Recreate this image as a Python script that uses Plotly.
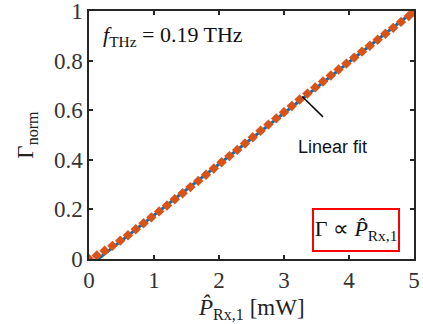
import plotly.graph_objects as go

# measured normalized Gamma vs received power
p_meas = [0, 0.12, 0.24, 0.36, 0.48, 0.6, 0.72, 0.84, 0.96, 1.08, 1.2, 1.32, 1.44, 1.56,
          1.68, 1.8, 1.92, 2.04, 2.16, 2.28, 2.4, 2.52, 2.64, 2.76, 2.88, 3.0, 3.12, 3.24,
          3.36, 3.48, 3.6, 3.72, 3.84, 3.96, 4.08, 4.2, 4.32, 4.44, 4.56, 4.68, 4.8, 4.92, 5.0]
g_meas = [0, 0.014, 0.033, 0.053, 0.074, 0.096, 0.12, 0.144, 0.168, 0.192, 0.216, 0.241,
          0.265, 0.29, 0.315, 0.34, 0.365, 0.39, 0.415, 0.44, 0.466, 0.491, 0.517,
          0.542, 0.567, 0.592, 0.617, 0.643, 0.667, 0.692, 0.716, 0.74, 0.764, 0.788,
          0.812, 0.836, 0.86, 0.884, 0.908, 0.932, 0.956, 0.98, 0.997]

# linear fit endpoints
p_fit = [0, 5]
g_fit = [-0.029, 1.0]

x_ticks = [0, 1, 2, 3, 4, 5]
y_ticks = [0, 0.2, 0.4, 0.6, 0.8, 1]
y_ticklabels = ["0", "0.2", "0.4", "0.6", "0.8", "1"]

BLUE = "#0072BD"
ORANGE = "#D95319"
AX = "#262626"
SERIF = "Liberation Serif"

fig = go.Figure()
fig.add_trace(go.Scatter(x=p_fit, y=g_fit, mode="lines",
                         line=dict(color=BLUE, width=3), showlegend=False))
fig.add_trace(go.Scatter(x=p_meas, y=g_meas, mode="markers",
                         marker=dict(symbol="diamond", size=8, color=ORANGE,
                                     line=dict(width=0)),
                         showlegend=False))

axis_common = dict(showline=True, linecolor=AX, linewidth=1.5, mirror="allticks",
                   ticks="inside", ticklen=4, tickwidth=1.5, tickcolor=AX,
                   showgrid=False, zeroline=False, ticklabeloverflow="allow",
                   automargin=False,
                   tickfont=dict(family=SERIF, size=23, color="#333333"))

fig.update_xaxes(range=[0, 5], tickvals=x_ticks, ticktext=[str(v) for v in x_ticks],
                 **axis_common)
fig.update_yaxes(range=[0, 1], tickvals=y_ticks, ticktext=y_ticklabels,
                 title=dict(text="\u0393<sub>norm</sub>",
                            font=dict(family=SERIF, size=23, color="#222222"), standoff=14),
                 **axis_common)

# x-axis title as a paper-referenced annotation
fig.add_annotation(x=0.5, y=-0.2, xref="paper", yref="paper", xanchor="center",
                   yanchor="middle", showarrow=False,
                   text="<i>P\u0302</i><sub>Rx,1</sub> [mW]",
                   font=dict(family=SERIF, size=23, color="#222222"))

fig.add_annotation(x=0.19, y=0.9, xref="x", yref="y", xanchor="left", yanchor="middle",
                   text="<i>f</i><sub>THz</sub> = 0.19 THz", showarrow=False,
                   font=dict(family=SERIF, size=22, color="#111111"))
fig.add_annotation(x=3.75, y=0.453, xref="x", yref="y", xanchor="center", yanchor="middle",
                   text="Linear fit", showarrow=False,
                   font=dict(family="Liberation Sans", size=18, color="#111111"))
fig.add_shape(type="line", x0=3.28, y0=0.655, x1=3.6, y1=0.573, xref="x", yref="y",
              line=dict(color="black", width=1.5))
fig.add_annotation(x=4.11, y=0.117, xref="x", yref="y", xanchor="center", yanchor="middle",
                   text="\u0393 \u221d <i>P\u0302</i><sub>Rx,1</sub>", showarrow=False,
                   width=84, height=40, bordercolor="#FF0000", borderwidth=2,
                   bgcolor="white", borderpad=0,
                   font=dict(family=SERIF, size=22, color="#111111"))

fig.update_layout(width=423, height=324, margin=dict(l=89, r=9, t=11, b=65),
                  plot_bgcolor="white", paper_bgcolor="white")

fig.write_html("out.html")
